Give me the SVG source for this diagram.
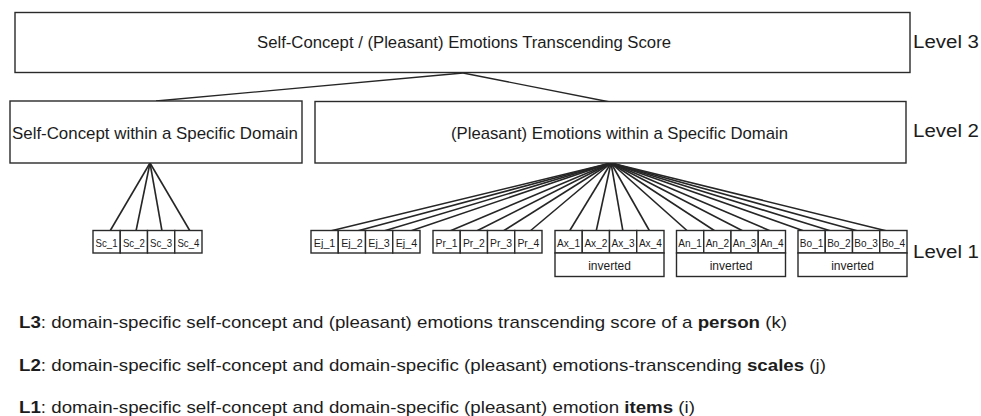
<svg xmlns="http://www.w3.org/2000/svg" width="981" height="416" viewBox="0 0 981 416">
<style>
.bx{fill:#fff;stroke:#2a2a2a;stroke-width:1.4}
.t{font-family:"Liberation Sans",Arial,sans-serif;fill:#1c1c1c}
.it{font-size:11px;text-anchor:middle}
.inv{font-size:12px;text-anchor:middle}
.lv{font-size:18px}
.lg{font-size:17px}
.b{font-weight:bold}
.c line{stroke:#262626;stroke-width:1.6}
.c .top{stroke-width:1.3}
</style>
<rect width="981" height="416" fill="#fff"/>
<g class="c" id="connectors">
<line class="top" x1="463" y1="73" x2="156" y2="101"/>
<line class="top" x1="463" y1="73" x2="610" y2="102"/>
<line x1="150" y1="163" x2="110" y2="231"/>
<line x1="150" y1="163" x2="136" y2="231"/>
<line x1="150" y1="163" x2="162" y2="231"/>
<line x1="150" y1="163" x2="190" y2="231"/>
<line x1="611" y1="163" x2="330.3" y2="231"/>
<line x1="611" y1="163" x2="357.1" y2="231"/>
<line x1="611" y1="163" x2="383.8" y2="231"/>
<line x1="611" y1="163" x2="410.5" y2="231"/>
<line x1="611" y1="163" x2="449.9" y2="231"/>
<line x1="611" y1="163" x2="476.6" y2="231"/>
<line x1="611" y1="163" x2="503.3" y2="231"/>
<line x1="611" y1="163" x2="530.1" y2="231"/>
<line x1="611" y1="163" x2="569.5" y2="231"/>
<line x1="611" y1="163" x2="596.2" y2="231"/>
<line x1="611" y1="163" x2="622.9" y2="231"/>
<line x1="611" y1="163" x2="649.6" y2="231"/>
<line x1="611" y1="163" x2="687.5" y2="231"/>
<line x1="611" y1="163" x2="715" y2="231"/>
<line x1="611" y1="163" x2="743" y2="231"/>
<line x1="611" y1="163" x2="770.5" y2="231"/>
<line x1="611" y1="163" x2="804" y2="231"/>
<line x1="611" y1="163" x2="831" y2="231"/>
<line x1="611" y1="163" x2="858" y2="231"/>
<line x1="611" y1="163" x2="887" y2="231"/>
</g>
<g id="L3-score"><rect class="bx" x="15" y="12.5" width="895" height="60"/><text class="t" x="464" y="47.5" font-size="16" text-anchor="middle" textLength="414" lengthAdjust="spacingAndGlyphs">Self-Concept / (Pleasant) Emotions Transcending Score</text></g>
<g id="L2-selfconcept"><rect class="bx" x="10" y="101" width="292" height="62"/><text class="t" x="155" y="139" font-size="17" text-anchor="middle" textLength="286" lengthAdjust="spacingAndGlyphs">Self-Concept within a Specific Domain</text></g>
<g id="L2-emotions"><rect class="bx" x="315" y="101.5" width="591" height="61.5"/><text class="t" x="619.5" y="139" font-size="17" text-anchor="middle" textLength="337" lengthAdjust="spacingAndGlyphs">(Pleasant) Emotions within a Specific Domain</text></g>
<g id="Sc_1"><rect class="bx" x="93" y="230.5" width="27.25" height="22.5"/><text class="t it" x="106.6" y="246.5" textLength="22" lengthAdjust="spacingAndGlyphs">Sc_1</text></g>
<g id="Sc_2"><rect class="bx" x="120.25" y="230.5" width="27.25" height="22.5"/><text class="t it" x="133.9" y="246.5" textLength="22" lengthAdjust="spacingAndGlyphs">Sc_2</text></g>
<g id="Sc_3"><rect class="bx" x="147.5" y="230.5" width="27.25" height="22.5"/><text class="t it" x="161.1" y="246.5" textLength="22" lengthAdjust="spacingAndGlyphs">Sc_3</text></g>
<g id="Sc_4"><rect class="bx" x="174.75" y="230.5" width="27.25" height="22.5"/><text class="t it" x="188.4" y="246.5" textLength="22" lengthAdjust="spacingAndGlyphs">Sc_4</text></g>
<g id="Ej_1"><rect class="bx" x="311" y="230.5" width="27.25" height="22.5"/><text class="t it" x="324.6" y="246.5" textLength="21.5" lengthAdjust="spacingAndGlyphs">Ej_1</text></g>
<g id="Ej_2"><rect class="bx" x="338.25" y="230.5" width="27.25" height="22.5"/><text class="t it" x="351.9" y="246.5" textLength="21.5" lengthAdjust="spacingAndGlyphs">Ej_2</text></g>
<g id="Ej_3"><rect class="bx" x="365.5" y="230.5" width="27.25" height="22.5"/><text class="t it" x="379.1" y="246.5" textLength="21.5" lengthAdjust="spacingAndGlyphs">Ej_3</text></g>
<g id="Ej_4"><rect class="bx" x="392.75" y="230.5" width="27.25" height="22.5"/><text class="t it" x="406.4" y="246.5" textLength="21.5" lengthAdjust="spacingAndGlyphs">Ej_4</text></g>
<g id="Pr_1"><rect class="bx" x="433" y="230.5" width="27.25" height="22.5"/><text class="t it" x="446.6" y="246.5" textLength="22" lengthAdjust="spacingAndGlyphs">Pr_1</text></g>
<g id="Pr_2"><rect class="bx" x="460.25" y="230.5" width="27.25" height="22.5"/><text class="t it" x="473.9" y="246.5" textLength="22" lengthAdjust="spacingAndGlyphs">Pr_2</text></g>
<g id="Pr_3"><rect class="bx" x="487.5" y="230.5" width="27.25" height="22.5"/><text class="t it" x="501.1" y="246.5" textLength="22" lengthAdjust="spacingAndGlyphs">Pr_3</text></g>
<g id="Pr_4"><rect class="bx" x="514.75" y="230.5" width="27.25" height="22.5"/><text class="t it" x="528.4" y="246.5" textLength="22" lengthAdjust="spacingAndGlyphs">Pr_4</text></g>
<g id="Ax_1"><rect class="bx" x="555" y="230.5" width="27.25" height="22.5"/><text class="t it" x="568.6" y="246.5" textLength="23" lengthAdjust="spacingAndGlyphs">Ax_1</text></g>
<g id="Ax_2"><rect class="bx" x="582.25" y="230.5" width="27.25" height="22.5"/><text class="t it" x="595.9" y="246.5" textLength="23" lengthAdjust="spacingAndGlyphs">Ax_2</text></g>
<g id="Ax_3"><rect class="bx" x="609.5" y="230.5" width="27.25" height="22.5"/><text class="t it" x="623.1" y="246.5" textLength="23" lengthAdjust="spacingAndGlyphs">Ax_3</text></g>
<g id="Ax_4"><rect class="bx" x="636.75" y="230.5" width="27.25" height="22.5"/><text class="t it" x="650.4" y="246.5" textLength="23" lengthAdjust="spacingAndGlyphs">Ax_4</text></g>
<g id="Ax_inv"><rect class="bx" x="555" y="253" width="109" height="23.5"/><text class="t inv" x="609.5" y="269.5">inverted</text></g>
<g id="An_1"><rect class="bx" x="676.5" y="230.5" width="27.25" height="22.5"/><text class="t it" x="690.1" y="246.5" textLength="23.5" lengthAdjust="spacingAndGlyphs">An_1</text></g>
<g id="An_2"><rect class="bx" x="703.75" y="230.5" width="27.25" height="22.5"/><text class="t it" x="717.4" y="246.5" textLength="23.5" lengthAdjust="spacingAndGlyphs">An_2</text></g>
<g id="An_3"><rect class="bx" x="731" y="230.5" width="27.25" height="22.5"/><text class="t it" x="744.6" y="246.5" textLength="23.5" lengthAdjust="spacingAndGlyphs">An_3</text></g>
<g id="An_4"><rect class="bx" x="758.25" y="230.5" width="27.25" height="22.5"/><text class="t it" x="771.9" y="246.5" textLength="23.5" lengthAdjust="spacingAndGlyphs">An_4</text></g>
<g id="An_inv"><rect class="bx" x="676.5" y="253" width="109" height="23.5"/><text class="t inv" x="731" y="269.5">inverted</text></g>
<g id="Bo_1"><rect class="bx" x="798" y="230.5" width="27.25" height="22.5"/><text class="t it" x="811.6" y="246.5" textLength="23.5" lengthAdjust="spacingAndGlyphs">Bo_1</text></g>
<g id="Bo_2"><rect class="bx" x="825.25" y="230.5" width="27.25" height="22.5"/><text class="t it" x="838.9" y="246.5" textLength="23.5" lengthAdjust="spacingAndGlyphs">Bo_2</text></g>
<g id="Bo_3"><rect class="bx" x="852.5" y="230.5" width="27.25" height="22.5"/><text class="t it" x="866.1" y="246.5" textLength="23.5" lengthAdjust="spacingAndGlyphs">Bo_3</text></g>
<g id="Bo_4"><rect class="bx" x="879.75" y="230.5" width="27.25" height="22.5"/><text class="t it" x="893.4" y="246.5" textLength="23.5" lengthAdjust="spacingAndGlyphs">Bo_4</text></g>
<g id="Bo_inv"><rect class="bx" x="798" y="253" width="109" height="23.5"/><text class="t inv" x="852.5" y="269.5">inverted</text></g>
<g id="levels">
<text class="t lv" x="913" y="48" textLength="66" lengthAdjust="spacingAndGlyphs">Level 3</text>
<text class="t lv" x="913" y="137" textLength="66" lengthAdjust="spacingAndGlyphs">Level 2</text>
<text class="t lv" x="913" y="258" textLength="66" lengthAdjust="spacingAndGlyphs">Level 1</text>
</g>
<g id="legend">
<text class="t lg" x="19" y="328" textLength="768" lengthAdjust="spacingAndGlyphs"><tspan class="b">L3</tspan>: domain-specific self-concept and (pleasant) emotions transcending score of a <tspan class="b">person</tspan> (k)</text>
<text class="t lg" x="19" y="371" textLength="807" lengthAdjust="spacingAndGlyphs"><tspan class="b">L2</tspan>: domain-specific self-concept and domain-specific (pleasant) emotions-transcending  <tspan class="b">scales</tspan> (j)</text>
<text class="t lg" x="19" y="413" textLength="676" lengthAdjust="spacingAndGlyphs"><tspan class="b">L1</tspan>: domain-specific self-concept and domain-specific (pleasant) emotion  <tspan class="b">items</tspan> (i)</text>
</g>
</svg>
